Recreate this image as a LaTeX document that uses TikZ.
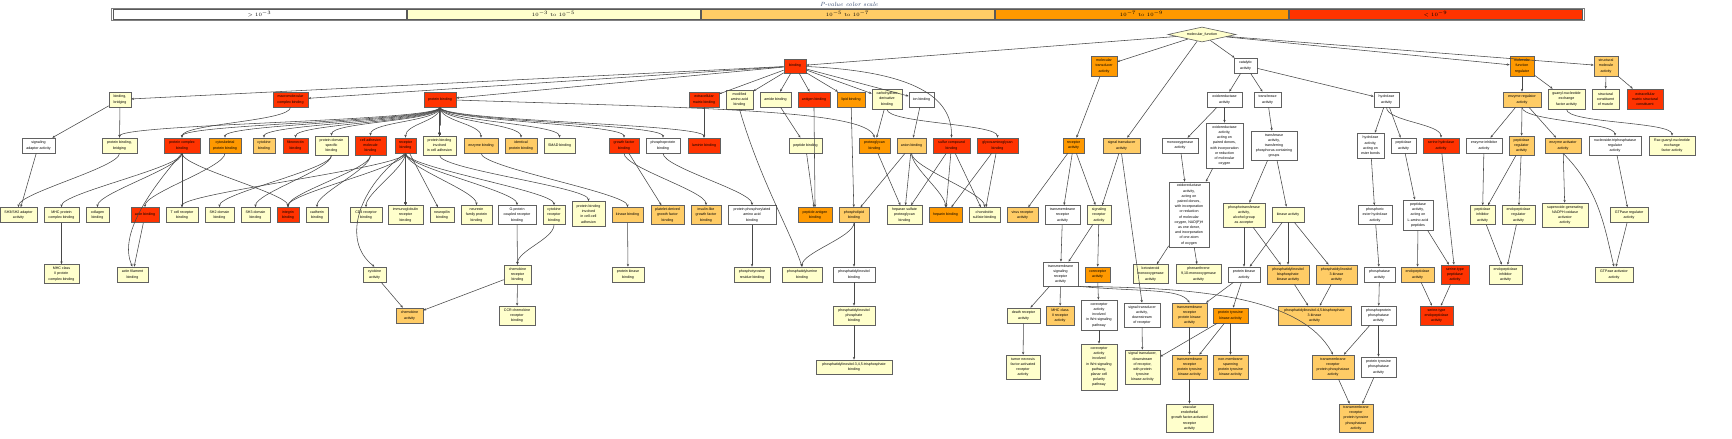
\documentclass[tikz,border=0pt]{standalone}
\usepackage{fontspec}
\newfontfamily\gofont{Liberation Sans}
\usetikzlibrary{shapes.geometric,arrows.meta,calc}
\definecolor{cLY}{HTML}{FFFFCC}
\definecolor{cLO}{HTML}{FFCC66}
\definecolor{cOR}{HTML}{FF9900}
\definecolor{cRD}{HTML}{FF3300}
\definecolor{cWH}{HTML}{FFFFFF}
\definecolor{cTitle}{HTML}{33476E}
\newcommand\gn[7]{\node[gobox,fill=#6,minimum width=#4pt,minimum height=#5pt] (#1) at (#2,#3) {#7};}
\newcommand\cedge[2]{\draw[ed] (#1.south) .. controls ($(#1.south)+(0,14)$) and ($(#2.north)+(0,-14)$) .. (#2.north);}
\begin{document}
\begin{tikzpicture}[x=1pt,y=-1pt,
  gobox/.style={draw=black!62,line width=0.6pt,rectangle,inner sep=0pt,align=center,
    font=\gofont\fontsize{3.6}{5.2}\selectfont},
  ed/.style={draw=black!72,line width=0.55pt,-{Stealth[length=2.8pt,width=2.3pt]}},
  legcell/.style={draw=black!65,line width=0.7pt,rectangle,inner sep=0pt,minimum height=9.5pt,minimum width=293pt,font=\fontsize{5}{6}\selectfont}]
\useasboundingbox (0,0) rectangle (1732,439);
% legend
\node[font=\fontsize{6}{7}\selectfont\itshape,text=cTitle] (ltitle) at (849,4.2) {P-value color scale};
\draw[draw=black!50,line width=0.9pt] (111,8.3) rectangle (1584,20.3);
\node[legcell,fill=cWH] (l1) at (259.5,14.3) {$>10^{-3}$};
\node[legcell,fill=cLY] (l2) at (553.5,14.3) {$10^{-3}$ to $10^{-5}$};
\node[legcell,fill=cLO] (l3) at (847.5,14.3) {$10^{-5}$ to $10^{-7}$};
\node[legcell,fill=cOR] (l4) at (1141.5,14.3) {$10^{-7}$ to $10^{-9}$};
\node[legcell,fill=cRD] (l5) at (1435.5,14.3) {$<10^{-9}$};
% root
\node[diamond,aspect=4.5,draw=black!62,line width=0.6pt,fill=cLY,inner sep=0pt,minimum width=68pt,minimum height=15pt,font=\gofont\fontsize{3.6}{5.2}\selectfont] (mf) at (1202,34.5) {molecular\_function};
% row 1
\gn{binding}{795}{66}{22}{14}{cRD}{binding}
\gn{mta}{1104}{66}{26}{20}{cOR}{molecular\\transducer\\activity}
\gn{cat}{1245.5}{65.5}{23}{15}{cWH}{catalytic\\activity}
\gn{mfr}{1522}{66}{24}{20}{cOR}{molecular\\function\\regulator}
\gn{sma}{1606}{66}{24}{20}{cLO}{structural\\molecule\\activity}
% row 2
\gn{bb}{120}{99.5}{22}{15}{cLY}{binding,\\bridging}
\gn{mcb}{290.5}{99.5}{35}{15}{cRD}{macromolecular\\complex binding}
\gn{pb}{440}{99.5}{32}{15}{cRD}{protein binding}
\gn{ecm}{704}{99.5}{30}{15}{cRD}{extracellular\\matrix binding}
\gn{maab}{739.5}{99.5}{27}{19}{cLY}{modified\\amino acid\\binding}
\gn{amide}{775.5}{99.5}{31}{15}{cLY}{amide binding}
\gn{antigen}{814}{99.5}{32}{15}{cRD}{antigen binding}
\gn{lipid}{851}{99.5}{28}{15}{cOR}{lipid binding}
\gn{cdb}{887}{99}{30}{20}{cLY}{carbohydrate\\derivative\\binding}
\gn{ion}{921.5}{99.5}{25}{15}{cWH}{ion binding}
\gn{oxr}{1224.5}{99.5}{35}{15}{cWH}{oxidoreductase\\activity}
\gn{trf}{1267.5}{99.5}{27}{15}{cWH}{transferase\\activity}
\gn{hyd}{1386.5}{99.5}{25}{15}{cWH}{hydrolase\\activity}
\gn{era}{1522}{99.5}{38}{15}{cLO}{enzyme regulator\\activity}
\gn{gef}{1566.5}{99}{37}{20}{cLY}{guanyl-nucleotide\\exchange\\factor activity}
\gn{scm}{1605.5}{99}{27}{20}{cLY}{structural\\constituent\\of muscle}
\gn{ecmsc}{1645}{99}{36}{20}{cRD}{extracellular\\matrix structural\\constituent}
% row 3
\gn{saa}{38.5}{145.5}{33}{15}{cWH}{signaling\\adaptor activity}
\gn{pbb}{119.5}{145.5}{35}{15}{cLY}{protein binding,\\bridging}
\gn{pcb}{182}{145.5}{36}{15}{cRD}{protein complex\\binding}
\gn{cpb}{225}{145.5}{32}{15}{cOR}{cytoskeletal\\protein binding}
\gn{cyb}{264}{145.5}{22}{15}{cLO}{cytokine\\binding}
\gn{fnb}{295.5}{145.5}{25}{15}{cRD}{fibronectin\\binding}
\gn{pdsb}{331.5}{145.5}{33}{19}{cLY}{protein domain\\specific\\binding}
\gn{camb}{370.5}{145.5}{31}{19}{cRD}{cell adhesion\\molecule\\binding}
\gn{rb}{405.5}{145.5}{21}{15}{cRD}{receptor\\binding}
\gn{pbica}{439.5}{145.5}{33}{19}{cLY}{protein binding\\involved\\in cell adhesion}
\gn{enzb}{481}{145.5}{34}{15}{cLO}{enzyme binding}
\gn{ipb}{521}{145.5}{32}{15}{cLO}{identical\\protein binding}
\gn{smad}{559.5}{145.5}{31}{15}{cLY}{SMAD binding}
\gn{gfb}{624}{145.5}{30}{15}{cRD}{growth factor\\binding}
\gn{ppb}{663}{145.5}{34}{15}{cWH}{phosphoprotein\\binding}
\gn{lamb}{704}{145.5}{32}{15}{cRD}{laminin binding}
\gn{pepb}{805.5}{145.5}{33}{15}{cLY}{peptide binding}
\gn{pgb}{874.5}{145.5}{31}{15}{cOR}{proteoglycan\\binding}
\gn{anb}{911.5}{145.5}{29}{15}{cLO}{anion binding}
\gn{scb}{951.5}{145.5}{37}{15}{cRD}{sulfur compound\\binding}
\gn{gagb}{997.5}{145.5}{41}{15}{cRD}{glycosaminoglycan\\binding}
\gn{ra}{1073.5}{145.5}{21}{15}{cOR}{receptor\\activity}
\gn{sta}{1121.5}{145.5}{37}{15}{cLO}{signal transducer\\activity}
\gn{mono}{1180}{145.5}{36}{15}{cWH}{monooxygenase\\activity}
\gn{oxpd}{1224.5}{145.5}{37}{45}{cWH}{oxidoreductase\\activity,\\acting on\\paired donors,\\with incorporation\\or reduction\\of molecular\\oxygen}
\gn{tpcg}{1274}{145.5}{46}{29}{cWH}{transferase\\activity,\\transferring\\phosphorus-containing\\groups}
\gn{hest}{1370.5}{145.5}{27}{25}{cWH}{hydrolase\\activity,\\acting on\\ester bonds}
\gn{pep}{1403.5}{145.5}{25}{15}{cWH}{peptidase\\activity}
\gn{shyd}{1441}{145.5}{36}{15}{cRD}{serine hydrolase\\activity}
\gn{einh}{1484}{145.5}{36}{15}{cWH}{enzyme inhibitor\\activity}
\gn{pepreg}{1521.5}{145.5}{25}{19}{cLO}{peptidase\\regulator\\activity}
\gn{eact}{1563}{145.5}{36}{15}{cLO}{enzyme activator\\activity}
\gn{ntpr}{1615}{145.5}{52}{19}{cWH}{nucleoside-triphosphatase\\regulator\\activity}
\gn{racgef}{1672}{145.5}{46}{19}{cLY}{Rac guanyl-nucleotide\\exchange\\factor activity}
% row 4
\gn{shsh}{18.5}{215}{37}{15}{cLY}{SH3/SH2 adaptor\\activity}
\gn{mhcpcb}{61.5}{215}{35}{15}{cLY}{MHC protein\\complex binding}
\gn{colb}{97.5}{215}{23}{15}{cLY}{collagen\\binding}
\gn{actb}{145}{215}{28}{15}{cRD}{actin binding}
\gn{tcrb}{182}{215}{32}{15}{cLY}{T cell receptor\\binding}
\gn{shtwo}{219.5}{215}{29}{15}{cLY}{SH2 domain\\binding}
\gn{shthree}{255.5}{215}{29}{15}{cLY}{SH3 domain\\binding}
\gn{intb}{288}{215}{22}{15}{cRD}{integrin\\binding}
\gn{cadb}{317}{215}{22}{15}{cLY}{cadherin\\binding}
\gn{cdfour}{366}{215}{32}{15}{cLY}{CD4 receptor\\binding}
\gn{igrb}{405.5}{215}{35}{19}{cLY}{immunoglobulin\\receptor\\binding}
\gn{nrpb}{442}{215}{24}{15}{cLY}{neuropilin\\binding}
\gn{nrxb}{476.5}{215}{31}{19}{cLY}{neurexin\\family protein\\binding}
\gn{gpcrb}{517}{215}{38}{19}{cWH}{G-protein\\coupled receptor\\binding}
\gn{cyrb}{554}{215}{22}{19}{cLY}{cytokine\\receptor\\binding}
\gn{pbicca}{588.5}{214}{33}{25}{cLY}{protein binding\\involved\\in cell-cell\\adhesion}
\gn{kinb}{627.5}{215}{31}{15}{cLO}{kinase binding}
\gn{pdgfb}{667.5}{215}{33}{19}{cLO}{platelet-derived\\growth factor\\binding}
\gn{igfb}{706}{215}{30}{19}{cLO}{insulin-like\\growth factor\\binding}
\gn{ppaab}{752}{215}{48}{19}{cWH}{protein phosphorylated\\amino acid\\binding}
\gn{pab}{815}{215}{34}{15}{cOR}{peptide antigen\\binding}
\gn{plb}{854}{215}{30}{15}{cLO}{phospholipid\\binding}
\gn{hspgb}{904.5}{215}{35}{19}{cLY}{heparan sulfate\\proteoglycan\\binding}
\gn{hepb}{945.5}{215}{33}{15}{cOR}{heparin binding}
\gn{csb}{984.5}{215}{31}{15}{cLY}{chondroitin\\sulfate binding}
\gn{vra}{1022.5}{215}{31}{15}{cLO}{virus receptor\\activity}
\gn{tra}{1062.5}{215}{35}{19}{cWH}{transmembrane\\receptor\\activity}
\gn{sra}{1099}{215}{24}{19}{cLY}{signaling\\receptor\\activity}
\gn{oxnad}{1189}{214.5}{40}{65}{cWH}{oxidoreductase\\activity,\\acting on\\paired donors,\\with incorporation\\or reduction\\of molecular\\oxygen, NAD(P)H\\as one donor,\\and incorporation\\of one atom\\of oxygen}
\gn{ptalc}{1244}{215}{42}{24}{cLY}{phosphotransferase\\activity,\\alcohol group\\as acceptor}
\gn{kin}{1288}{214.5}{32}{15}{cLY}{kinase activity}
\gn{pest}{1375}{215}{34}{19}{cWH}{phosphoric\\ester hydrolase\\activity}
\gn{pepl}{1418}{215}{30}{30}{cWH}{peptidase\\activity,\\acting on\\L-amino acid\\peptides}
\gn{pepinh}{1482.5}{215}{25}{19}{cLY}{peptidase\\inhibitor\\activity}
\gn{endreg}{1518.5}{215}{33}{19}{cLY}{endopeptidase\\regulator\\activity}
\gn{sgnox}{1565}{215}{46}{24}{cLY}{superoxide-generating\\NADPH oxidase\\activator\\activity}
\gn{gtpreg}{1629}{215}{38}{15}{cLY}{GTPase regulator\\activity}
% row 5
\gn{mhctwo}{61.5}{274}{35}{19}{cLY}{MHC class\\II protein\\complex binding}
\gn{afb}{132.5}{274.5}{31}{15}{cLY}{actin filament\\binding}
\gn{cyta}{374.5}{274.5}{23}{15}{cLY}{cytokine\\activity}
\gn{chrb}{517.5}{274.5}{27}{19}{cLY}{chemokine\\receptor\\binding}
\gn{pkb}{628}{274.5}{32}{15}{cLY}{protein kinase\\binding}
\gn{ptyr}{752}{274.5}{36}{15}{cLY}{phosphotyrosine\\residue binding}
\gn{psb}{802}{274.5}{40}{15}{cLY}{phosphatidylserine\\binding}
\gn{pib}{854}{274.5}{42}{15}{cWH}{phosphatidylinositol\\binding}
\gn{tsra}{1060.5}{274}{35}{24}{cWH}{transmembrane\\signaling\\receptor\\activity}
\gn{cora}{1097.5}{274.5}{25}{15}{cOR}{coreceptor\\activity}
\gn{ksm}{1150.5}{274}{35}{19}{cLY}{ketosteroid\\monooxygenase\\activity}
\gn{phen}{1198.5}{274}{45}{19}{cLY}{phenanthrene\\9,10-monooxygenase\\activity}
\gn{pka}{1244}{274.5}{32}{15}{cWH}{protein kinase\\activity}
\gn{pibpk}{1288}{274.5}{42}{19}{cLO}{phosphatidylinositol\\bisphosphate\\kinase activity}
\gn{pithreek}{1336.5}{274.5}{41}{19}{cLO}{phosphatidylinositol\\3-kinase\\activity}
\gn{phos}{1379.5}{274.5}{31}{15}{cWH}{phosphatase\\activity}
\gn{endo}{1417.5}{274.5}{33}{15}{cLO}{endopeptidase\\activity}
\gn{stp}{1455}{274.5}{28}{19}{cRD}{serine-type\\peptidase\\activity}
\gn{endinh}{1505.5}{274.5}{33}{19}{cLY}{endopeptidase\\inhibitor\\activity}
\gn{gtpact}{1614}{274.5}{38}{15}{cLY}{GTPase activator\\activity}
% row 6
\gn{chema}{409.5}{315.5}{27}{15}{cLO}{chemokine\\activity}
\gn{ccr}{517}{315.5}{36}{19}{cLY}{CCR chemokine\\receptor\\binding}
\gn{pipb}{854}{315.5}{42}{19}{cLY}{phosphatidylinositol\\phosphate\\binding}
\gn{dra}{1023.5}{315.5}{33}{15}{cLY}{death receptor\\activity}
\gn{mhctwor}{1060}{315.5}{28}{19}{cLO}{MHC class\\II receptor\\activity}
\gn{corwnt}{1099}{315}{36}{30}{cWH}{coreceptor\\activity\\involved\\in Wnt signaling\\pathway}
\gn{stdr}{1142}{315}{36}{24}{cWH}{signal transducer\\activity,\\downstream\\of receptor}
\gn{trpk}{1189.5}{315}{35}{24}{cLO}{transmembrane\\receptor\\protein kinase\\activity}
\gn{ptk}{1230.5}{315.5}{35}{15}{cOR}{protein tyrosine\\kinase activity}
\gn{piptwo}{1314.5}{315.5}{73}{19}{cLO}{phosphatidylinositol-4,5-bisphosphate\\3-kinase\\activity}
\gn{ppp}{1378.5}{315.5}{35}{19}{cWH}{phosphoprotein\\phosphatase\\activity}
\gn{ste}{1436.5}{315.5}{33}{19}{cRD}{serine-type\\endopeptidase\\activity}
% row 7
\gn{pipthreeb}{854}{367}{76}{14}{cLY}{phosphatidylinositol-3,4,5-trisphosphate\\binding}
\gn{tnf}{1023}{367}{34}{24}{cLY}{tumor necrosis\\factor-activated\\receptor\\activity}
\gn{corpcp}{1099}{367}{36}{46}{cLY}{coreceptor\\activity\\involved\\in Wnt signaling\\pathway,\\planar cell\\polarity\\pathway}
\gn{stptk}{1142.5}{367}{35}{34}{cLY}{signal transducer,\\downstream\\of receptor,\\with protein\\tyrosine\\kinase activity}
\gn{trptk}{1189.5}{367}{35}{24}{cLO}{transmembrane\\receptor\\protein tyrosine\\kinase activity}
\gn{nmptk}{1230.5}{367}{35}{24}{cLO}{non-membrane\\spanning\\protein tyrosine\\kinase activity}
\gn{trpp}{1333}{367}{42}{24}{cLO}{transmembrane\\receptor\\protein phosphatase\\activity}
\gn{ptp}{1378.5}{367}{35}{20}{cWH}{protein tyrosine\\phosphatase\\activity}
% row 8
\gn{vegf}{1189.5}{418}{47}{28}{cLY}{vascular\\endothelial\\growth factor-activated\\receptor\\activity}
\gn{trptp}{1356}{418}{34}{28}{cLO}{transmembrane\\receptor\\protein tyrosine\\phosphatase\\activity}
% ---- edges ----
\foreach \c in {binding,mta,cat,mfr,sma,sta} \draw[ed] (mf) -- (\c);
\foreach \c in {bb,mcb,pb,ecm,maab,amide,antigen,lipid,cdb,ion} \draw[ed] (binding) -- (\c);
\draw[ed] (binding) .. controls (930,72) and (952,105) .. (scb.north);
\draw[ed] (bb) -- (saa); \draw[ed] (bb) -- (pbb);
\foreach \c in {pbb,pcb,cpb,cyb,fnb,pdsb,camb,rb,enzb,ipb,smad,gfb,ppb,lamb} \cedge{pb}{\c}
\draw[ed] (pb) -- (pbica);
\draw[ed] (pb) .. controls (700,108) and (866,110) .. (pgb.north);
\cedge{mcb}{pcb}
\draw[ed] (ecm) -- (lamb);
\draw[ed] (cdb) -- (pgb); \cedge{cdb}{gagb}
\draw[ed] (ion) -- (anb);
\draw[ed] (amide) -- (pepb); \draw[ed] (pepb) -- (pab); \cedge{antigen}{pab}
\draw[ed] (lipid) -- (plb);
\draw[ed] (maab.south) .. controls (760,180) and (790,230) .. (psb.north);
\cedge{plb}{psb} \draw[ed] (plb) -- (pib); \draw[ed] (pib) -- (pipb); \draw[ed] (pipb) -- (pipthreeb);
\draw[ed] (anb) -- (plb); \draw[ed] (anb) -- (hspgb); \cedge{anb}{hepb} \cedge{anb}{csb}
\draw[ed] (scb) -- (hspgb); \draw[ed] (scb) -- (hepb); \draw[ed] (scb) -- (csb);
\draw[ed] (gagb) -- (hepb); \draw[ed] (gagb) -- (csb);
\draw[ed] (pgb) -- (hspgb);
\cedge{ppb}{ppaab} \draw[ed] (ppaab) -- (ptyr);
\draw[ed] (gfb) -- (pdgfb); \cedge{gfb}{igfb}
\cedge{enzb}{kinb} \draw[ed] (kinb) -- (pkb);
\cedge{pcb}{mhcpcb} \cedge{pcb}{colb} \draw[ed] (pcb) -- (tcrb); \cedge{pcb}{intb}
\draw[ed] (pcb.south) .. controls (150,190) and (118,235) .. (afb.north);
\cedge{cpb}{actb} \draw[ed] (actb) -- (afb);
\draw[ed] (mhcpcb) -- (mhctwo);
\cedge{pdsb}{shtwo} \cedge{pdsb}{shthree}
\cedge{camb}{intb} \cedge{camb}{cadb}
\foreach \c in {intb,tcrb,cdfour,nrxb,gpcrb,cyrb} \cedge{rb}{\c}
\draw[ed] (rb) -- (igrb); \draw[ed] (rb) -- (nrpb);
\draw[ed] (rb.south) .. controls (360,185) and (340,240) .. (cyta.north);
\cedge{pbica}{pbicca}
\cedge{cyrb}{chrb} \draw[ed] (gpcrb) -- (chrb);
\draw[ed] (chrb) -- (ccr); \draw[ed] (chrb) -- (chema); \draw[ed] (cyta) -- (chema);
\draw[ed] (saa) -- (shsh); \cedge{pbb}{shsh}
\draw[ed] (mta) -- (ra);
\draw[ed] (ra) -- (vra); \draw[ed] (ra) -- (tra); \draw[ed] (ra) -- (sra);
\draw[ed] (sta) -- (sra); \draw[ed] (sta.south) -- (stdr.north);
\draw[ed] (tra) -- (tsra); \draw[ed] (sra) -- (tsra); \draw[ed] (sra) -- (cora);
\draw[ed] (tsra) -- (dra); \draw[ed] (tsra) -- (mhctwor);
\draw[ed] (tsra.south east) .. controls (1140,292) and (1180,288) .. (trpk.north);
\draw[ed] (tsra.south east) .. controls (1180,288) and (1300,292) .. (trpp.north);
\draw[ed] (dra) -- (tnf); \draw[ed] (cora) -- (corwnt); \draw[ed] (corwnt) -- (corpcp);
\draw[ed] (stdr) -- (stptk); \draw[ed] (ptk) -- (stptk);
\draw[ed] (cat) -- (oxr); \draw[ed] (cat) -- (trf); \draw[ed] (cat) -- (hyd);
\draw[ed] (oxr) -- (mono); \draw[ed] (oxr) -- (oxpd);
\draw[ed] (mono) -- (oxnad); \draw[ed] (oxpd) -- (oxnad);
\draw[ed] (oxnad) -- (ksm); \draw[ed] (oxnad) -- (phen);
\draw[ed] (trf) -- (tpcg);
\draw[ed] (tpcg) -- (ptalc); \draw[ed] (tpcg) -- (kin);
\draw[ed] (ptalc) -- (pka); \draw[ed] (ptalc) -- (pibpk);
\draw[ed] (kin) -- (pka); \draw[ed] (kin) -- (pibpk); \draw[ed] (kin) -- (pithreek);
\draw[ed] (pka) -- (trpk); \draw[ed] (pka) -- (ptk);
\draw[ed] (pibpk) -- (piptwo); \draw[ed] (pithreek) -- (piptwo);
\draw[ed] (trpk) -- (trptk); \draw[ed] (ptk) -- (trptk); \draw[ed] (ptk) -- (nmptk);
\draw[ed] (trptk) -- (vegf);
\draw[ed] (hyd) -- (hest); \draw[ed] (hyd) -- (pep); \cedge{hyd}{shyd}
\draw[ed] (hest) -- (pest); \draw[ed] (pest) -- (phos); \draw[ed] (phos) -- (ppp);
\draw[ed] (ppp) -- (trpp); \draw[ed] (ppp) -- (ptp);
\draw[ed] (trpp) -- (trptp); \draw[ed] (ptp) -- (trptp);
\draw[ed] (pep) -- (pepl); \draw[ed] (pepl) -- (endo); \draw[ed] (pepl) -- (stp);
\draw[ed] (shyd) -- (stp); \draw[ed] (endo) -- (ste); \draw[ed] (stp) -- (ste);
\draw[ed] (mfr) -- (era); \draw[ed] (mfr) -- (gef);
\draw[ed] (sma) -- (scm); \draw[ed] (sma) -- (ecmsc);
\draw[ed] (era) -- (einh); \draw[ed] (era) -- (pepreg); \draw[ed] (era) -- (eact); \cedge{era}{ntpr}
\cedge{gef}{racgef}
\draw[ed] (einh) -- (pepinh); \draw[ed] (pepreg) -- (pepinh); \draw[ed] (pepreg) -- (endreg);
\draw[ed] (pepinh) -- (endinh); \draw[ed] (endreg) -- (endinh);
\draw[ed] (eact) -- (sgnox);
\draw[ed] (eact.south) .. controls (1600,190) and (1605,230) .. (gtpact.north);
\draw[ed] (ntpr) -- (gtpreg); \draw[ed] (gtpreg) -- (gtpact);
\end{tikzpicture}
\end{document}
